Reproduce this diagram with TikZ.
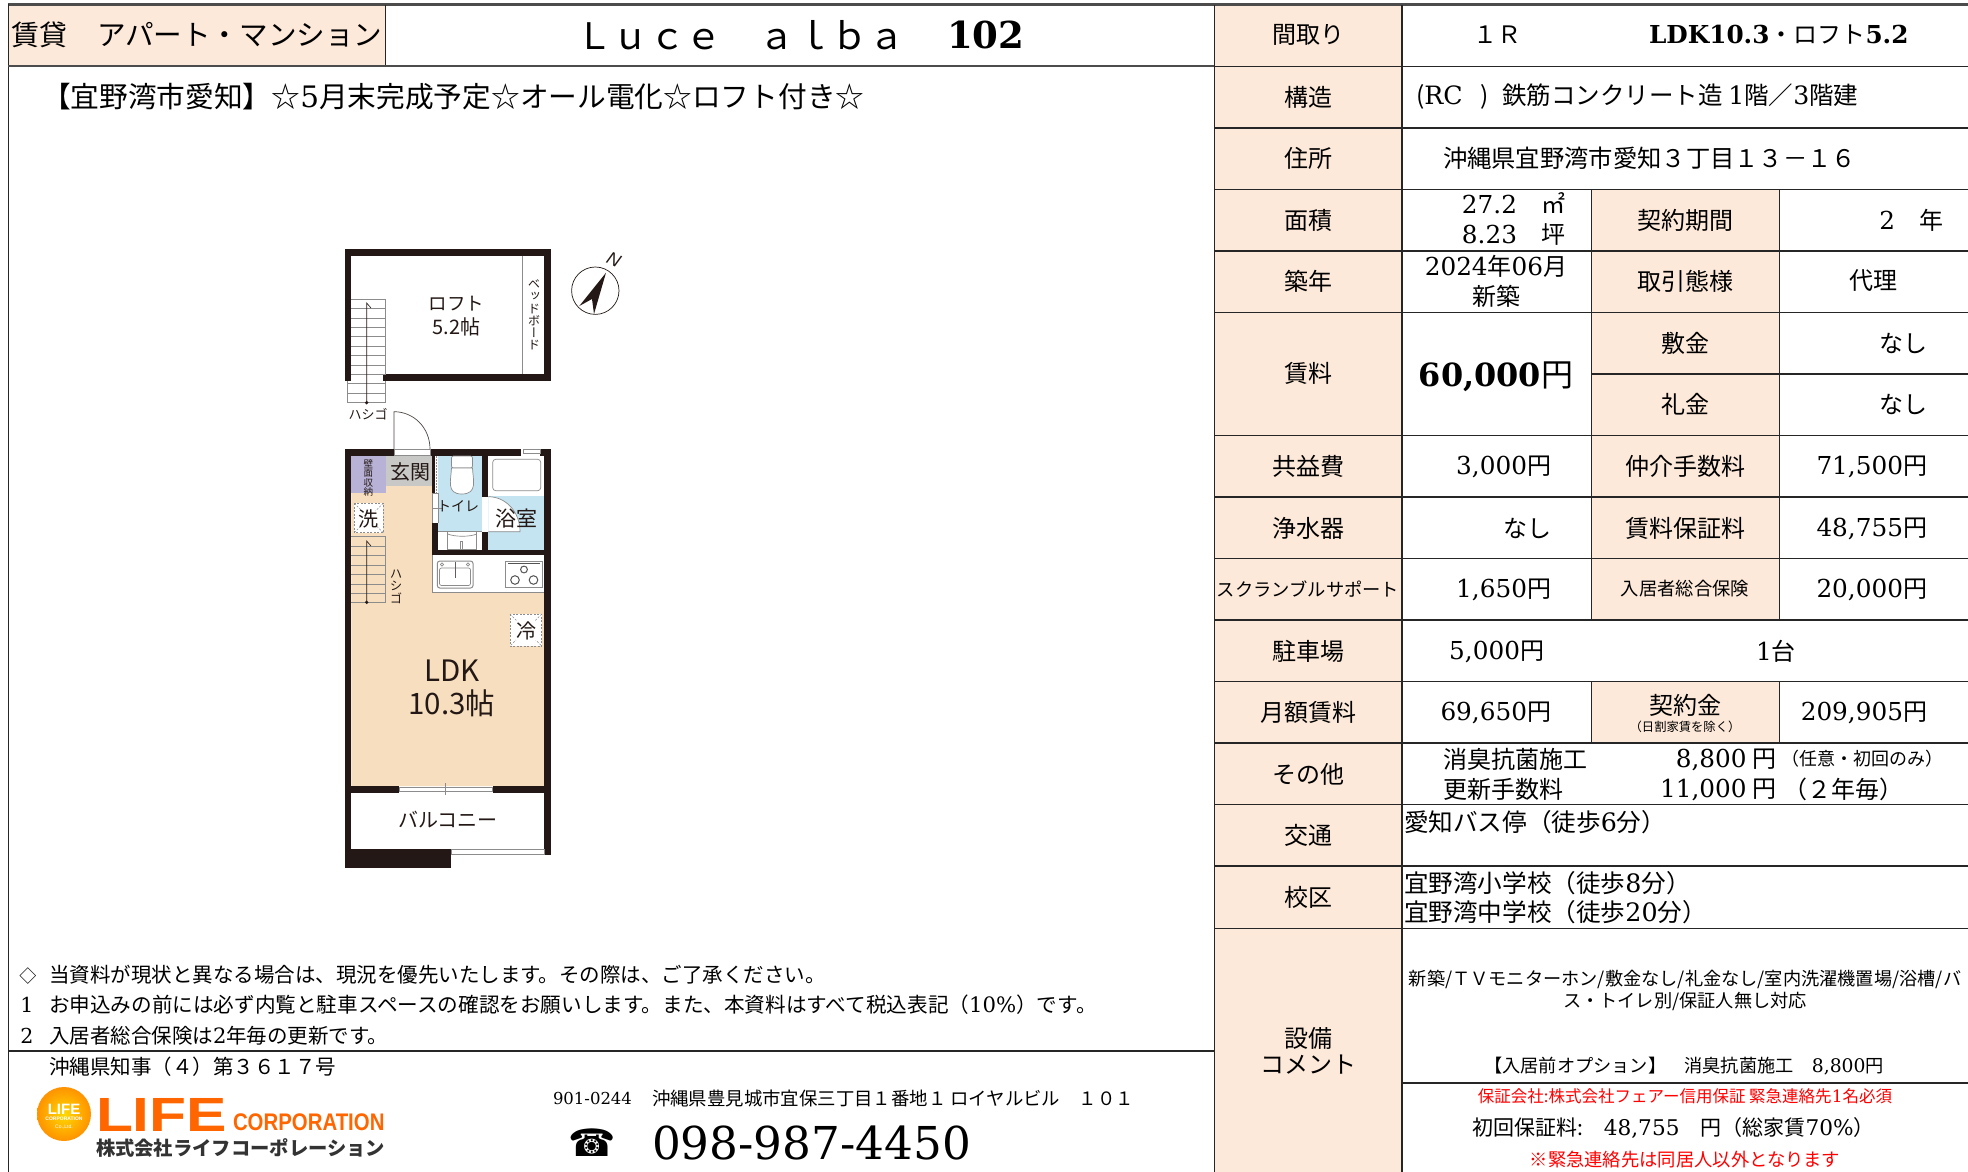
\documentclass[tikz,border=0pt]{standalone}
\usepackage{fontspec}
\usepackage{graphicx}
\setmainfont{Noto Sans CJK JP}
\newfontfamily\ser[Scale=1.03]{DejaVu Serif}
\newfontfamily\lsans{Liberation Sans}
\newfontfamily\dsans{DejaVu Sans}
\newfontfamily\jpv[RawFeature=+vert]{Noto Sans CJK JP}
\newcommand\fs[1]{\fontsize{#1}{#1}\selectfont}
\newcommand\D[1]{{\ser #1}}
\newcommand\BD[1]{{\ser\bfseries #1}}
\definecolor{lab}{RGB}{253,233,217}
\definecolor{wallc}{RGB}{35,24,21}
\definecolor{ldk}{RGB}{246,222,190}
\definecolor{wet}{RGB}{195,228,240}
\definecolor{lav}{RGB}{183,178,214}
\definecolor{gen}{RGB}{200,200,198}
\definecolor{gl}{RGB}{140,140,140}
\definecolor{lifeo}{RGB}{255,102,0}
\tikzset{
  x=1pt,y=-1pt,
  tx/.style={inner sep=0pt,outer sep=0pt,text=black},
  c24/.style={tx,font=\fs{24}},
  l24/.style={tx,font=\fs{24},anchor=west},
  r24/.style={tx,font=\fs{24},anchor=east},
  sv/.style={r24,yshift=-1pt},
  grid/.style={draw=black!85,line width=1.5pt},
  wall/.style={fill=wallc},
  thin g/.style={draw=gl,line width=0.7pt},
  fp/.style={inner sep=0pt,outer sep=0pt,text=wallc},
  vstack/.style={fp,align=center},
}
\begin{document}
\begin{tikzpicture}
\useasboundingbox (0,0) rectangle (1968,1172);
\fill[white] (0,0) rectangle (1968,1172);
% label fills
\fill[lab] (8.5,5) rectangle (385,66);
\fill[lab] (1214,5) rectangle (1402,1172);
\foreach \a/\b in {189.5/312.5,312.5/435.5,435.5/558.5,681.5/743}{\fill[lab] (1591,\a) rectangle (1779,\b);}
\fill[lab] (1591,558.5) rectangle (1779,620);
% grid
\draw[draw=black!70,line width=3pt] (8,4.5) -- (1968,4.5);
\draw[grid] (8.5,4) -- (8.5,1172);
\draw[grid,line width=1pt] (385,5) -- (385,66);
\draw[draw=black!70,line width=2pt] (8,66) -- (1214,66);
\draw[grid] (8,1051) -- (1214,1051);
\draw[grid,line width=1pt] (1214,5) -- (1214,1172);
\draw[grid] (1402,5) -- (1402,1172);
\foreach \a/\b in {189.5/620,681.5/743}{\draw[grid,line width=1pt] (1591,\a) -- (1591,\b);\draw[grid,line width=1pt] (1779,\a) -- (1779,\b);}
\foreach \y in {66.5,128,189.5,251,312.5,435.5,497,558.5,620,681.5,743,804.5,866,928.5}{\draw[grid] (1214,\y) -- (1968,\y);}
\draw[grid] (1591,374) -- (1968,374);
\draw[grid] (1402,1083) -- (1968,1083);
% header
\node[tx,font=\fs{28},anchor=west] (h1) at (11,35) {賃貸};
\node[tx,font=\fs{28.6},anchor=west] (h2) at (97,35) {アパート・マンション};
\node[tx,font=\fs{36.5},anchor=west] (h3) at (576,35) {Ｌｕｃｅ　ａｌｂａ};
\node[tx,font=\fs{36},anchor=west] (h4) at (947,35) {\BD{102}};
\node[tx,font=\fs{28.7},anchor=west] (h5) at (42,97) {【宜野湾市愛知】☆\D{5}月末完成予定☆オール電化☆ロフト付き☆};
% left labels
\node[c24] (a1) at (1308,35) {間取り};
\node[c24] (a2) at (1308,97) {構造};
\node[c24] (a3) at (1308,158) {住所};
\node[c24] (a4) at (1308,220) {面積};
\node[c24] (a5) at (1308,281) {築年};
\node[c24] (a6) at (1308,373) {賃料};
\node[c24] (a7) at (1308,466) {共益費};
\node[c24] (a8) at (1308,528) {浄水器};
\node[tx,font=\fs{18.3}] (a9) at (1308,589) {スクランブルサポート};
\node[c24] (a10) at (1308,651) {駐車場};
\node[c24] (a11) at (1308,712) {月額賃料};
\node[c24] (a12) at (1308,774) {その他};
\node[c24] (a13) at (1308,835) {交通};
\node[c24] (a14) at (1308,897) {校区};
\node[c24] (a15) at (1308,1038) {設備};
\node[c24] (a16) at (1308,1065) {コメント};
% middle labels
\node[c24] (b1) at (1685,220) {契約期間};
\node[c24] (b2) at (1685,281) {取引態様};
\node[c24] (b3) at (1685,343) {敷金};
\node[c24] (b4) at (1685,404) {礼金};
\node[c24] (b5) at (1685,466) {仲介手数料};
\node[c24] (b6) at (1685,528) {賃料保証料};
\node[tx,font=\fs{18.3}] (b7) at (1685,589) {入居者総合保険};
\node[c24] (b8) at (1685,705) {契約金};
\node[tx,font=\fs{12.3}] (b9) at (1685,727) {（日割家賃を除く）};
% values
\node[c24] (v1) at (1497,35) {１Ｒ};
\node[l24] (v2) at (1649,35) {\BD{LDK10.3}・ロフト\BD{5.2}};
\node[tx,font=\fs{24.5},anchor=west] (v3) at (1416,97) {(\D{RC}\hspace{12pt} )\hspace{14pt}鉄筋コンクリート造 \D{1}階／\D{3}階建};
\node[tx,font=\fs{24.3},anchor=west] (v4) at (1443,158) {沖縄県宜野湾市愛知３丁目１３－１６};
\node[r24] (v5) at (1565,203) {\D{27.2}　㎡};
\node[r24] (v6) at (1565,235) {\D{8.23}　坪};
\node[r24] (v7) at (1943,220) {\D{2}　年};
\node[c24] (v8) at (1496,266) {\D{2024}年\D{06}月};
\node[c24] (v9) at (1496,296) {新築};
\node[c24] (v10) at (1873,281) {代理};
\node[tx,font=\fs{31}] (v11) at (1496,377) {\BD{60,000}\fs{32}円};
\node[r24] (v12) at (1927,343) {なし};
\node[r24] (v13) at (1927,404) {なし};
\node[sv] (v14) at (1551,466) {\D{3,000}円};
\node[sv] (v15) at (1927,466) {\D{71,500}円};
\node[r24] (v16) at (1551,528) {なし};
\node[sv] (v17) at (1927,528) {\D{48,755}円};
\node[sv] (v18) at (1551,589) {\D{1,650}円};
\node[sv] (v19) at (1927,589) {\D{20,000}円};
\node[sv] (v20) at (1544,651) {\D{5,000}円};
\node[l24] (v21) at (1756,651) {\D{1}台};
\node[sv] (v22) at (1551,712) {\D{69,650}円};
\node[sv] (v23) at (1927,712) {\D{209,905}円};
\node[l24] (v24) at (1443,759) {消臭抗菌施工};
\node[sv] (v25) at (1776,759) {\D{8,800} 円};
\node[tx,font=\fs{18},anchor=west] (v26) at (1781,759) {（任意・初回のみ）};
\node[l24] (v27) at (1443,789) {更新手数料};
\node[sv] (v28) at (1776,789) {\D{11,000} 円};
\node[l24] (v29) at (1783,789) {（２年毎）};
\node[tx,font=\fs{24.6},anchor=west] (v30) at (1404,822) {愛知バス停（徒歩\D{6}分）};
\node[tx,font=\fs{24.6},anchor=west] (v31) at (1404,883) {宜野湾小学校（徒歩\D{8}分）};
\node[tx,font=\fs{24.6},anchor=west] (v32) at (1404,912) {宜野湾中学校（徒歩\D{20}分）};
\node[tx,font=\fs{18.2}] (v33) at (1685,979) {新築/ＴＶモニターホン/敷金なし/礼金なし/室内洗濯機置場/浴槽/バ};
\node[tx,font=\fs{18.2}] (v34) at (1685,1001) {ス・トイレ別/保証人無し対応};
\node[tx,font=\fs{18.2}] (v35) at (1684,1066) {【入居前オプション】　消臭抗菌施工　\D{8,800}円};
\node[tx,font=\fs{16.5},text=red] (v36) at (1685,1096) {保証会社:株式会社フェアー信用保証 緊急連絡先\D{1}名必須};
\node[tx,font=\fs{21},anchor=west] (v37) at (1472,1128) {初回保証料:　\D{48,755}　円（総家賃\D{70\%}）};
\node[tx,font=\fs{18.3},text=red] (v38) at (1685,1160) {※緊急連絡先は同居人以外となります};
% notes
\node[tx,font=\fs{17},anchor=center] (n0) at (28,976) {◇};
\node[tx,font=\fs{20.5},anchor=west] (n1) at (49,975) {当資料が現状と異なる場合は、現況を優先いたします。その際は、ご了承ください。};
\node[tx,font=\fs{20},anchor=center] (n2) at (27,1005) {\D{1}};
\node[tx,font=\fs{20.6},anchor=west] (n3) at (49,1005) {お申込みの前には必ず内覧と駐車スペースの確認をお願いします。また、本資料はすべて税込表記（\D{10\%}）です。};
\node[tx,font=\fs{20},anchor=center] (n4) at (27,1036) {\D{2}};
\node[tx,font=\fs{20.5},anchor=west] (n5) at (49,1036) {入居者総合保険は\D{2}年毎の更新です。};
\node[tx,font=\fs{20.5},anchor=west] (n6) at (49,1067) {沖縄県知事（４）第３６１７号};
% logo
\shade[inner color=yellow!70!orange,outer color=orange!85!yellow] (64,1114) circle[radius=27pt];
\node[tx,text=white,font=\lsans\bfseries\fs{15}] (l1) at (64,1109) {LIFE};
\node[tx,text=white,font=\lsans\bfseries\fs{5}] (l2) at (64,1119) {CORPORATION};
\node[tx,text=white,font=\lsans\fs{5}] (l3) at (64,1127) {Co.,Ltd.};
\node[tx,text=lifeo,font=\lsans\bfseries\fs{48},anchor=west] (l4) at (96,1115) {\scalebox{1.26}[1]{LIFE}};
\node[tx,text=lifeo,font=\lsans\bfseries\fs{24},anchor=west] (l5) at (233,1122) {\scalebox{0.85}[1]{CORPORATION}};
\node[tx,font=\fs{19.3}\bfseries,text=black!80,anchor=west] (l6) at (96,1148) {株式会社ライフコーポレーション};
% address
\node[tx,font=\fs{16},anchor=west] (t1) at (553,1098) {\D{901-0244}};
\node[tx,font=\fs{18.4},anchor=west] (t2) at (652,1098) {沖縄県豊見城市宜保三丁目１番地１ ロイヤルビル　１０１};
\node[tx,font=\dsans\fs{38},anchor=center] (t3) at (592,1143) {☎};
\node[tx,font=\fs{44},anchor=west] (t4) at (652,1143) {\D{098-987-4450}};
% ======= floor plan =======
% fills
\fill[ldk] (351.3,492.7) -- (385.7,492.7) -- (385.7,486) -- (432.3,486) -- (432.3,592.3) -- (544.3,592.3) -- (544.3,786) -- (351.3,786) -- cycle;
\fill[lav] (351.3,455.7) rectangle (385.7,492.7);
\fill[gen] (385.7,455.7) rectangle (432.3,486);
\fill[wet] (438.3,455.7) rectangle (482,531.7);
\fill[wet] (488.3,496) rectangle (544.3,549.5);
\fill[white] (488.3,496.7) .. controls (506,496.7) and (520,512) .. (520,531.7) -- (488.3,531.7) -- cycle;
\draw[thin g] (488.3,496.7) .. controls (506,496.7) and (520,512) .. (520,531.7) -- (488.3,531.7);
% loft walls
\fill[wall] (345,249) rectangle (551,255.7);
\fill[wall] (345,249) rectangle (351.3,381);
\fill[wall] (544.3,249) rectangle (551,381);
\fill[wall] (382.7,374.3) rectangle (551,381);
\draw[thin g] (522.7,255.7) -- (522.7,374.3);
% loft stairs
\draw[thin g] (351.3,299) -- (385.7,299) -- (385.7,374.3);
\foreach \y in {299,308.5,318,327.3,336.7,346.3,355.7,365.3,374.3}{\draw[thin g] (351.3,\y) -- (385.7,\y);}
\foreach \y in {383.7,393.3,402.7}{\draw[thin g] (347.7,\y) -- (385.7,\y);}
\draw[thin g] (347.7,381) -- (347.7,402.7);
\draw[thin g] (385.7,381) -- (385.7,402.7);
\coordinate (s1b) at (366.7,402.7);
\coordinate (s1t) at (366.7,303);
\draw[wallc,line width=0.6pt] (s1b) -- (s1t) -- (371,308);
\fill[wallc] (s1b) circle[radius=1.8pt];
\node[fp,font=\fs{13}] (p1) at (368,414) {ハシゴ};
% main walls
\fill[wall] (345,449) rectangle (351.3,867.7);
\fill[wall] (345,449) rectangle (394,455.7);
\fill[wall] (430,449) rectangle (521,455.7);
\fill[wall] (540,449) rectangle (550.7,455.7);
\fill[wall] (544.3,449) rectangle (550.7,855);
\fill[wall] (432.3,455.7) rectangle (434.5,493);
\fill[wall] (432.3,523.3) rectangle (438.3,555);
\fill[wall] (482,455.7) rectangle (488.3,496.7);
\fill[wall] (482,531.7) rectangle (488.3,555);
\fill[wall] (432.3,549.5) rectangle (550.7,555);
\fill[wall] (345,786) rectangle (399.3,792.7);
\fill[wall] (492.7,786) rectangle (550.7,792.7);
\fill[wall] (345,849) rectangle (451,867.7);
\draw[thin g] (394,449) rectangle (430,455.7);
\draw[thin g] (523,449.5) rectangle (540,453.5);
\draw[thin g] (399.3,787.5) rectangle (492.7,791.5);
\draw[thin g] (445.7,783) -- (445.7,795);
\draw[thin g] (451,849.5) rectangle (544.3,854.5);
\draw[gl,line width=0.6pt,dash pattern=on 1.5pt off 1.5pt] (436.5,456) -- (436.5,493);
\draw[thin g] (432.3,493) -- (438.3,493);
\draw[thin g] (432.3,493) -- (432.3,523.3);
\draw[thin g] (438.3,493) -- (438.3,523.3);
\draw[thin g] (432.3,508) -- (443,508);
% door
\coordinate (d1) at (394,449);
\coordinate (d2) at (394,411.7);
\coordinate (d3) at (430,449);
\draw[wallc!80,line width=0.7pt] (d1) -- (d2) .. controls (414,411.7) and (430,428) .. (d3);
% toilet
\draw[thin g,fill=white,rounded corners=2pt] (451.5,456) -- (472.5,456) -- (472.5,468) -- (451.5,468) -- cycle;
\draw[thin g,fill=white] (461.7,494) .. controls (446,494) and (451,480) .. (451.5,468) -- (472.5,468) .. controls (473,480) and (478,494) .. (461.7,494) -- cycle;
\fill[white] (438.3,531.7) rectangle (482,549.5);
\draw[thin g] (438.3,531.7) -- (482,531.7);
\draw[thin g] (447.7,531.7) -- (447.7,549.5) -- (476.7,549.5) -- (476.7,531.7);
\draw[thin g] (447.7,534) .. controls (455,537) and (470,537) .. (476.7,534);
\draw[thin g] (460.5,541) rectangle (462.5,549);
% bath
\draw[thin g,rounded corners=3pt] (492.7,459.3) rectangle (540.7,490.7);
% kitchen
\fill[white] (432.3,555) rectangle (544.3,592.3);
\draw[thin g] (432.3,555) -- (432.3,592.3) -- (544.3,592.3);
\draw[thin g,line width=1pt,rounded corners=2.5pt] (437.3,561) rectangle (473,588);
\draw[thin g,rounded corners=2pt] (439.5,568) rectangle (470.5,585.5);
\draw[wallc!70,line width=0.8pt] (455,562) -- (455,578);
\draw[thin g] (442,564.5) circle[radius=1.6pt] (468,564.5) circle[radius=1.6pt];
\draw[thin g,line width=1pt] (505.7,561) rectangle (542.7,587.5);
\draw[gl!60!black,line width=1.5pt] (508,563.5) -- (540,563.5);
\draw[thin g,draw=gl!60!black,line width=1pt] (515,580) circle[radius=4.3pt] (524,569.5) circle[radius=3.4pt] (533.5,580) circle[radius=4.3pt];
% lower stairs
\foreach \y in {536.7,546.2,555.6,565,574.4,583.9,593.3,602.5}{\draw[thin g] (351.3,\y) -- (385.7,\y);}
\draw[thin g] (385.7,536.7) -- (385.7,602.5);
\coordinate (s2b) at (366.7,602.3);
\coordinate (s2t) at (366.7,541);
\draw[wallc,line width=0.6pt] (s2b) -- (s2t) -- (371,546);
\fill[wallc] (s2b) circle[radius=1.8pt];
% washer
\fill[white] (354.3,503.3) rectangle (383.3,532.7);
\draw[gl,line width=0.7pt,dash pattern=on 2pt off 1.5pt] (354.3,503.3) rectangle (383.3,532.7);
\draw[gl,line width=0.5pt,dash pattern=on 2pt off 1.5pt] (354.3,503.3) -- (362,511) (383.3,503.3) -- (375.5,511) (354.3,532.7) -- (362,525) (383.3,532.7) -- (375.5,525);
\node[fp,font=\fs{20}] (p2) at (368.5,518.5) {洗};
% fridge
\fill[white] (510,614) rectangle (541.7,646);
\draw[gl,line width=0.7pt,dash pattern=on 2pt off 1.5pt] (510,614) rectangle (541.7,646);
\draw[gl,line width=0.5pt,dash pattern=on 2pt off 1.5pt] (510,614) -- (541.7,646) (541.7,614) -- (510,646);
\fill[white] (516,621) rectangle (536,640);
\node[fp,font=\fs{20}] (p3) at (526,630.5) {冷};
% labels
\node[fp,font=\fs{18.5}] (p4) at (456.7,304) {ロフト};
\node[fp,font=\fs{20}] (p5) at (456.7,327) {5.2帖};
\node[vstack,font=\jpv\fs{12.3}] (p6) at (534,315) {ベ\\ッ\\ド\\ボ\\ー\\ド};
\node[vstack,font=\jpv\fs{9.5}] (p7) at (368.3,478) {壁\\面\\収\\納};
\node[fp,font=\fs{20}] (p8) at (410,471.7) {玄関};
\node[fp,font=\fs{14}] (p9) at (458,506.5) {トイレ};
\node[fp,font=\fs{21}] (p10) at (516,519) {浴室};
\node[vstack,font=\jpv\fs{12.5}] (p11) at (396,586.5) {ハ\\シ\\ゴ};
\node[fp,font=\fs{29.5}] (p12) at (452,670.7) {LDK};
\node[fp,font=\fs{29.5}] (p13) at (452,703) {10.3帖};
\node[fp,font=\fs{20}] (p14) at (448,819.3) {バルコニー};
% compass
\draw[wallc,line width=0.7pt] (595.3,290.7) circle[radius=23.7pt];
\fill[wallc] (606,272.7) -- (579.3,306) -- (592,299) -- (594,314) -- cycle;
\node[fp,font=\lsans\itshape\fs{18},rotate=-25] (p15) at (614,260) {N};
\end{tikzpicture}
\end{document}
